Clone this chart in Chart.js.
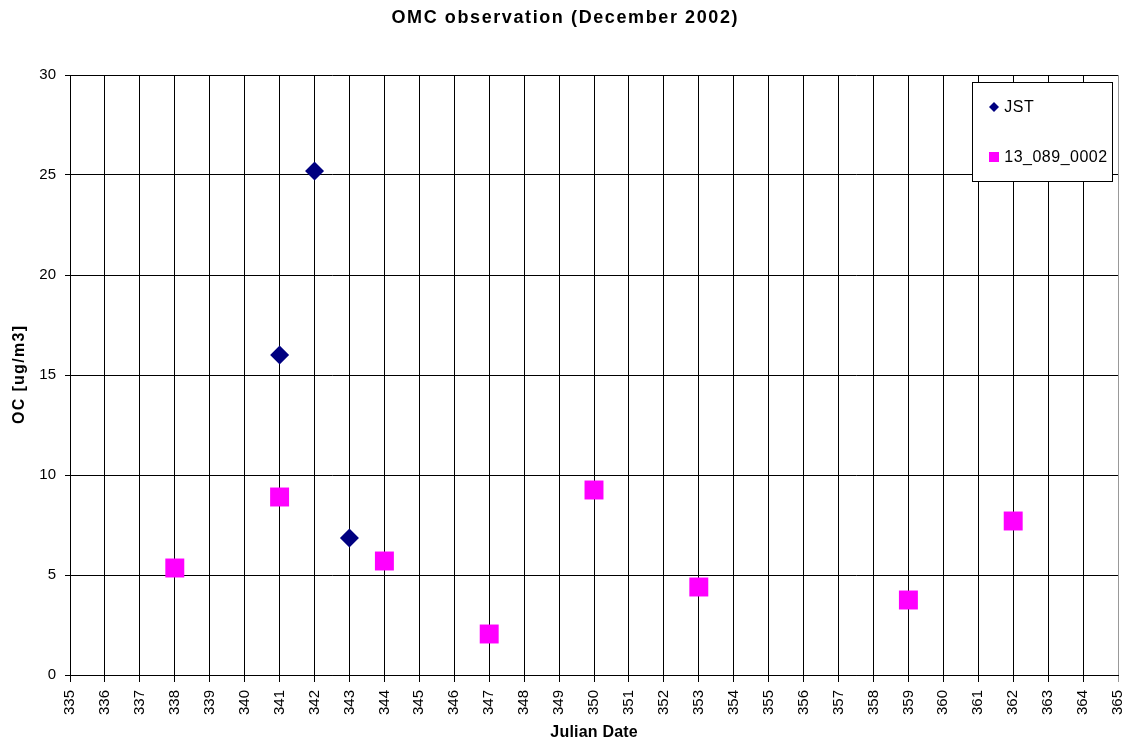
<!DOCTYPE html>
<html>
<head>
<meta charset="utf-8">
<script src="https://cdn.jsdelivr.net/npm/chart.js@4/dist/chart.umd.min.js"></script>
<style>
  html, body { margin: 0; padding: 0; background: #fff; }
  #wrap { width: 1129px; height: 746px; position: relative; }
</style>
</head>
<body>
<div id="wrap"><canvas id="myChart"></canvas></div>
<script>
// values
const titleText = "OMC observation (December 2002)";
const xLabel = "Julian Date";
const yLabel = "OC [ug/m3]";
const xMin = 335, xMax = 365;
const yTicks = [0, 5, 10, 15, 20, 25, 30];

const jstDays = [341, 342, 343];
const jstValues = [16.0, 25.2, 6.85];
const siteDays = [338, 341, 344, 347, 350, 353, 359, 362];
const siteValues = [5.35, 8.9, 5.7, 2.05, 9.25, 4.4, 3.75, 7.7];

const font = "'Liberation Sans', Arial, sans-serif";

const toPoints = (xs, ys) => xs.map((x, i) => ({ x: x, y: ys[i] }));

function spacedText(ctx, text, x, y, spacing) {
    if ("letterSpacing" in ctx) {
        ctx.letterSpacing = spacing + "px";
        ctx.fillText(text, x + spacing / 2, y);
        ctx.letterSpacing = "0px";
    } else {
        ctx.fillText(text, x, y);
    }
}

// chart title and axis titles
const textPlugin = {
    id: "texts",
    afterDraw(chart) {
        const ctx = chart.ctx;
        const area = chart.chartArea;
        ctx.save();
        ctx.fillStyle = "#000";
        ctx.textAlign = "center";
        ctx.textBaseline = "middle";

        ctx.font = "bold 18px " + font;
        spacedText(ctx, titleText, chart.width / 2, 18, 1.6);

        ctx.font = "bold 16px " + font;
        spacedText(ctx, xLabel, (area.left + area.right) / 2, 733, 0.2);

        ctx.translate(20, (area.top + area.bottom) / 2);
        ctx.rotate(-Math.PI / 2);
        spacedText(ctx, yLabel, 0, 0, 1.3);
        ctx.restore();
    }
};

// boxed legend in the upper right of the plot
const boxLegend = {
    id: "boxLegend",
    afterDraw(chart) {
        const ctx = chart.ctx;
        const bx = 972.5, by = 82.5, bw = 140, bh = 99;
        ctx.save();
        ctx.fillStyle = "#fff";
        ctx.fillRect(bx, by, bw, bh);
        ctx.strokeStyle = "#000";
        ctx.lineWidth = 1;
        ctx.strokeRect(bx, by, bw, bh);
        ctx.font = "16px " + font;
        ctx.textBaseline = "middle";
        ctx.textAlign = "left";
        const rows = [107, 157];
        chart.data.datasets.forEach((ds, i) => {
            const y = rows[i];
            ctx.fillStyle = ds.backgroundColor;
            if (ds.pointStyle === "rectRot") {
                ctx.beginPath();
                ctx.moveTo(989, y);
                ctx.lineTo(994, y - 5);
                ctx.lineTo(999, y);
                ctx.lineTo(994, y + 5);
                ctx.closePath();
                ctx.fill();
            } else {
                ctx.fillRect(989, y - 5, 10, 10);
            }
            ctx.fillStyle = "#000";
            spacedText(ctx, ds.label, 1004, y + 1, 0.5);
        });
        ctx.restore();
    }
};

const config = {
    type: "scatter",
    data: {
        datasets: [
            {
                label: "JST",
                data: toPoints(jstDays, jstValues),
                pointStyle: "rectRot",
                pointRadius: 9.5,
                pointHoverRadius: 9.5,
                backgroundColor: "#000080",
                borderColor: "#000080",
                borderWidth: 0
            },
            {
                label: "13_089_0002",
                data: toPoints(siteDays, siteValues),
                pointStyle: "rect",
                pointRadius: 13.4,
                pointHoverRadius: 13.4,
                backgroundColor: "#ff00ff",
                borderColor: "#ff00ff",
                borderWidth: 0
            }
        ]
    },
    options: {
        responsive: true,
        maintainAspectRatio: false,
        animation: false,
        events: [],
        layout: {
            autoPadding: false,
            padding: { top: 75, right: 11, left: 0, bottom: 0 }
        },
        plugins: {
            legend: { display: false },
            title: { display: false },
            tooltip: { enabled: false }
        },
        scales: {
            x: {
                type: "linear",
                min: xMin,
                max: xMax,
                afterFit: (s) => {
                    s.height = 71;
                    s.paddingLeft = 0;
                    s.paddingRight = 0;
                },
                afterBuildTicks: (s) => {
                    s.ticks = [];
                    for (let v = xMin; v <= xMax; v++) s.ticks.push({ value: v });
                },
                border: { color: "#000", width: 1 },
                grid: {
                    color: (c) => c.tick && c.tick.value === xMax ? "#999" : "#000",
                    lineWidth: 1,
                    tickLength: 7,
                    drawTicks: true
                },
                ticks: {
                    color: "#000",
                    font: { family: font, size: 15 },
                    minRotation: 90,
                    maxRotation: 90,
                    autoSkip: false,
                    padding: 8
                },
                title: { display: false }
            },
            y: {
                min: 0,
                max: 30,
                afterFit: (s) => {
                    s.width = 70;
                    s.paddingTop = 0;
                    s.paddingBottom = 0;
                },
                afterBuildTicks: (s) => {
                    s.ticks = yTicks.map((v) => ({ value: v }));
                },
                border: { color: "#000", width: 1 },
                grid: {
                    color: "#000",
                    lineWidth: 1,
                    tickLength: 5
                },
                ticks: {
                    color: "#000",
                    font: { family: font, size: 15 },
                    padding: 9
                },
                title: { display: false }
            }
        }
    },
    plugins: [textPlugin, boxLegend]
};

const myChart = new Chart(document.getElementById("myChart"), config);
</script>
</body>
</html>
